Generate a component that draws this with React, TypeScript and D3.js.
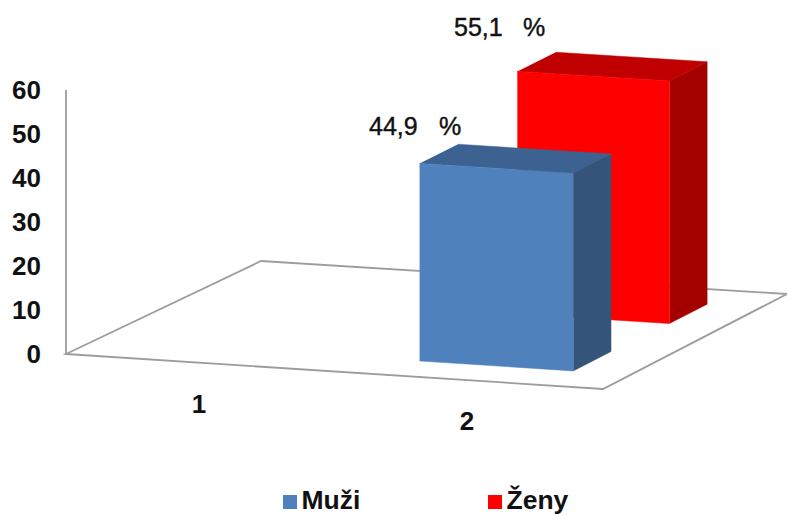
import React from "react";
import * as d3 from "d3";

const categories = ["1", "2"];
const seriesNames = ["Muži", "Ženy"];
const muzi = [0, 44.9];
const zeny = [0, 55.1];
const tickValues = [0, 10, 20, 30, 40, 50, 60];
const valueLabels = ["44,9", "55,1"];

const W = 787, H = 515;
const FRONT_L: [number, number] = [66, 354];
const FRONT_R: [number, number] = [603, 389];
const BACK_L: [number, number] = [261, 261];
const BACK_R: [number, number] = [787, 294];

const yScale = d3.scaleLinear().domain([0, 60]).range([0, 264]);
const uScale = d3.scalePoint<string>().domain(categories).range([0.245, 0.745]);
const uShift = d3.scalePoint<string>().domain(seriesNames).range([0.004, 0.01]);
const vScale = d3.scalePoint<string>().domain(seriesNames).range([0.253, 0.755]);
const halfW = 0.1435, halfD = 0.102;

function project(u: number, v: number, h = 0): [number, number] {
  const fx = FRONT_L[0] + (FRONT_R[0] - FRONT_L[0]) * u;
  const fy = FRONT_L[1] + (FRONT_R[1] - FRONT_L[1]) * u;
  const bx = BACK_L[0] + (BACK_R[0] - BACK_L[0]) * u;
  const by = BACK_L[1] + (BACK_R[1] - BACK_L[1]) * u;
  return [fx + (bx - fx) * v, fy + (by - fy) * v - yScale(h)];
}
const poly = d3.line();

const palette = [
  { front: "#4F81BD", top: "#3C6291", side: "#345579" },
  { front: "#FF0000", top: "#C00000", side: "#A30000" },
];
const seriesValues = [muzi, zeny];
const font = "'Liberation Sans', Arial, sans-serif";
const grey = "#9C9C9C";

function Bar({ cat, s, value }: { cat: string; s: number; value: number }) {
  const name = seriesNames[s];
  const uc = uScale(cat)! + uShift(name)!, vc = vScale(name)!;
  const u0 = uc - halfW, u1 = uc + halfW, v0 = vc - halfD, v1 = vc + halfD;
  const c = palette[s];
  return (
    <g strokeWidth={0.5} strokeLinejoin="round">
      <path fill={c.side} stroke={c.side} d={poly([project(u1, v0), project(u1, v1), project(u1, v1, value), project(u1, v0, value)])!} />
      <path fill={c.top} stroke={c.top} d={poly([project(u0, v0, value), project(u1, v0, value), project(u1, v1, value), project(u0, v1, value)])!} />
      <path fill={c.front} stroke={c.front} d={poly([project(u0, v0), project(u1, v0), project(u1, v0, value), project(u0, v0, value)])!} />
    </g>
  );
}

const valueLabelPos = [
  { x: 369, y: 135, px: 439 },
  { x: 454, y: 36, px: 523 },
];
const legendPos = [
  { sx: 283, tx: 301.5 },
  { sx: 488, tx: 506.5 },
];
const catLabelPos = [
  { x: 199, y: 413 },
  { x: 467, y: 430 },
];

export default function App() {
  const axisTop = project(0, 0, 60);
  return (
    <svg width={W} height={H} viewBox={`0 0 ${W} ${H}`} style={{ position: "absolute", left: 0, top: 0, display: "block", background: "#fff" }} fontFamily={font}>
      <path d={poly([axisTop, project(0, 0)])!} fill="none" stroke={grey} strokeWidth={1.8} />
      <path d={poly([project(0, 0), project(1, 0), project(1, 1), project(0, 1)])! + "Z"} fill="none" stroke={grey} strokeWidth={1.8} strokeLinejoin="miter" />

      {tickValues.map((t) => (
        <text key={t} x={41} y={FRONT_L[1] + 9 - yScale(t)} textAnchor="end" fontSize={26} fontWeight="bold" fill="#111">{t}</text>
      ))}

      {categories.map((cat, i) => (
        <text key={cat} x={catLabelPos[i].x} y={catLabelPos[i].y} textAnchor="middle" fontSize={26} fontWeight="bold" fill="#111">{cat}</text>
      ))}

      {[1, 0].map((s) => (
        <Bar key={s} cat={categories[1]} s={s} value={seriesValues[s][1]} />
      ))}

      {valueLabels.map((l, i) => (
        <g key={l} fontSize={25} fill="#111" stroke="#111" strokeWidth={0.4}>
          <text x={valueLabelPos[i].x} y={valueLabelPos[i].y}>{l}</text>
          <text x={valueLabelPos[i].px} y={valueLabelPos[i].y}>%</text>
        </g>
      ))}

      {seriesNames.map((n, s) => (
        <g key={n}>
          <rect x={legendPos[s].sx} y={495} width={14} height={14} fill={palette[s].front} />
          <text x={legendPos[s].tx} y={509.3} fontSize={26.5} fontWeight="bold" fill="#111">{n}</text>
        </g>
      ))}
    </svg>
  );
}
